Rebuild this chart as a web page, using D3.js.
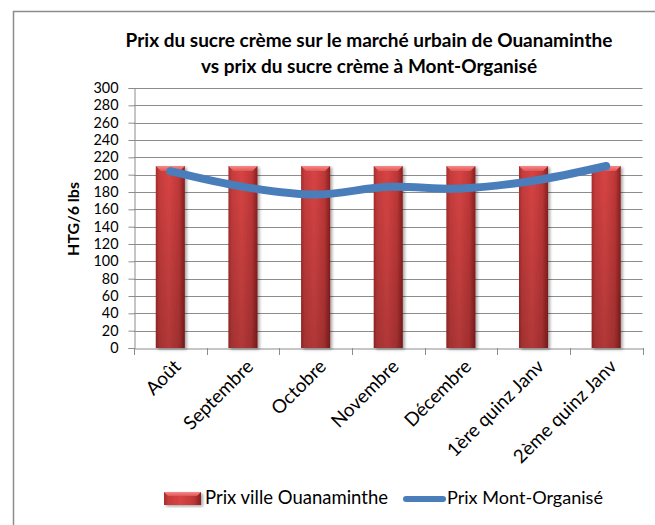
<!DOCTYPE html>
<html><head><meta charset="utf-8">
<script src="https://cdn.jsdelivr.net/npm/d3@7"></script>
<style>
html,body{margin:0;padding:0;background:#fff;}
text{font-family:Lato,"Open Sans",sans-serif;fill:#000;}
</style></head>
<body>
<svg id="chart" width="655" height="525"></svg>
<script>
const categories = ["Août","Septembre","Octobre","Novembre","Décembre","1ère quinz Janv","2ème quinz Janv"];
const prixOuanaminthe = [210,210,210,210,210,210,210];
const prixMontOrganise = [204,186,177,186,184,193,210];
const yTicks = [0,20,40,60,80,100,120,140,160,180,200,220,240,260,280,300];
const titleLines = ["Prix du sucre crème sur le marché urbain de Ouanaminthe","vs prix du sucre crème à Mont-Organisé"];
const yLabel = "HTG/6 lbs";
const seriesNames = ["Prix ville Ouanaminthe","Prix Mont-Organisé"];

const svg = d3.select("#chart");
const W = 655, H = 525;
const plot = {left:134, right:642.5, top:88, bottom:348};

function fitWidth(sel, target){
  const n = sel.node();
  const fs = parseFloat(sel.attr("font-size"));
  const w = n.getComputedTextLength();
  if (w > 0) sel.attr("font-size", (fs*target/w).toFixed(2));
  return parseFloat(sel.attr("font-size"));
}

const defs = svg.append("defs");
const gH = defs.append("linearGradient").attr("id","barH").attr("x1","0").attr("x2","1").attr("y1","0").attr("y2","0");
[[0,"#a62c2c"],[0.12,"#c63c3c"],[0.45,"#d84444"],[0.8,"#c03838"],[1,"#8a1f1f"]].forEach(s=>gH.append("stop").attr("offset",s[0]).attr("stop-color",s[1]));
const gV = defs.append("linearGradient").attr("id","barV").attr("x1","0").attr("x2","0").attr("y1","0").attr("y2","1");
gV.append("stop").attr("offset",0).attr("stop-color","#000").attr("stop-opacity",0);
gV.append("stop").attr("offset",1).attr("stop-color","#000").attr("stop-opacity",0.18);
const gTop = defs.append("linearGradient").attr("id","barTop").attr("x1","0").attr("x2","0").attr("y1","0").attr("y2","1");
gTop.append("stop").attr("offset",0).attr("stop-color","#f58a8a");
gTop.append("stop").attr("offset",1).attr("stop-color","#e05555");
const sh = defs.append("filter").attr("id","shadow").attr("x","-20%").attr("y","-20%").attr("width","160%").attr("height","140%");
sh.append("feDropShadow").attr("dx",2).attr("dy",1.5).attr("stdDeviation",1.5).attr("flood-color","#000").attr("flood-opacity",0.35);

// frame
svg.append("path").attr("d",`M13.5,${H} L13.5,11.5 L${W},11.5`).attr("fill","none").attr("stroke","#8c8c8c").attr("stroke-width",1.5);

const x = d3.scaleBand().domain(categories).range([plot.left, plot.right]).paddingInner(0.6).paddingOuter(0.3);
const xPts = d3.scalePoint().domain(categories).range([plot.left, plot.right]).padding(0.5);
const y = d3.scaleLinear().domain([0,300]).range([plot.bottom, plot.top]);

// gridlines
svg.append("g").selectAll("line").data(yTicks.filter(d=>d>0)).join("line")
  .attr("x1",plot.left).attr("x2",plot.right)
  .attr("y1",d=>Math.round(y(d))+0.5).attr("y2",d=>Math.round(y(d))+0.5)
  .attr("stroke","#8c8c8c").attr("stroke-width",1);

// y axis
const yAxis = svg.append("g").attr("transform",`translate(${plot.left+0.5},0)`)
  .call(d3.axisLeft(y).tickValues(yTicks).tickSize(6).tickPadding(10));
yAxis.select(".domain").attr("stroke","#8c8c8c");
yAxis.selectAll(".tick line").attr("stroke","#8c8c8c");
yAxis.selectAll(".tick text").attr("font-size",14.4).attr("font-family","Lato").attr("fill","#000");

// x axis
const xAxis = svg.append("g").attr("transform",`translate(0,${Math.round(plot.bottom)+0.5})`)
  .call(d3.axisBottom(x).tickSize(0).tickFormat(""));
xAxis.select(".domain").attr("stroke","#8c8c8c");
const boundaries = d3.range(categories.length+1).map(i=>plot.left + i*(plot.right-plot.left)/categories.length);
svg.append("g").selectAll("line").data(boundaries).join("line")
  .attr("x1",d=>Math.round(d)+0.5).attr("x2",d=>Math.round(d)+0.5)
  .attr("y1",plot.bottom).attr("y2",plot.bottom+7)
  .attr("stroke","#8c8c8c");

// x labels
const xl = svg.append("g").selectAll("text").data(categories).join("text")
  .attr("transform",d=>`translate(${xPts(d)+7},${plot.bottom+15}) rotate(-45)`)
  .attr("text-anchor","end").attr("dy","0.35em")
  .attr("font-size",16.5).text(d=>d);
const xfs = fitWidth(d3.select(xl.nodes()[categories.length-1]), 137);
xl.attr("font-size", xfs);

// bars
const bw = x.bandwidth();
const bars = svg.append("g").selectAll("g").data(categories.map((c,i)=>({c, v:prixOuanaminthe[i]}))).join("g")
  .attr("filter","url(#shadow)");
bars.append("rect").attr("x",d=>x(d.c)).attr("y",d=>y(d.v)).attr("width",bw).attr("height",d=>y(0)-y(d.v)).attr("fill","url(#barH)");
bars.append("rect").attr("x",d=>x(d.c)).attr("y",d=>y(d.v)).attr("width",bw).attr("height",d=>y(0)-y(d.v)).attr("fill","url(#barV)");
bars.append("path").attr("d",d=>{const x0=x(d.c), t=y(d.v), b=5;return `M${x0},${t} L${x0+bw},${t} L${x0+bw-b},${t+b} L${x0+b},${t+b} Z`;}).attr("fill","url(#barTop)");

// line
const line = d3.line().x((d,i)=>xPts(categories[i])).y(d=>y(d)).curve(d3.curveCatmullRom.alpha(0.5));
svg.append("path").datum(prixMontOrganise).attr("d",line)
  .attr("fill","none").attr("stroke","#4a7ebb").attr("stroke-width",8).attr("stroke-linecap","round").attr("stroke-linejoin","round");

// y label
svg.append("text").attr("transform","translate(79,219) rotate(-90)").attr("text-anchor","middle")
  .attr("font-size",16).attr("font-weight","bold").text(yLabel);

// title
const t1 = svg.append("text").attr("x",369).attr("y",47).attr("text-anchor","middle").attr("font-size",18).attr("font-weight","bold").text(titleLines[0]);
const tfs = fitWidth(t1, 487);
svg.append("text").attr("x",369).attr("y",73).attr("text-anchor","middle").attr("font-size",tfs).attr("font-weight","bold").text(titleLines[1]);

// legend
const lg = svg.append("g");
const sw = lg.append("g").attr("filter","url(#shadow)");
sw.append("rect").attr("x",164).attr("y",492).attr("width",37).attr("height",13).attr("fill","url(#barH)");
sw.append("path").attr("d","M164,492 L201,492 L197,496 L168,496 Z").attr("fill","url(#barTop)");
const l1 = lg.append("text").attr("x",205).attr("y",504).attr("font-size",17).text(seriesNames[0]);
fitWidth(l1, 183);
lg.append("line").attr("x1",406).attr("x2",443).attr("y1",499).attr("y2",499)
  .attr("stroke","#4a7ebb").attr("stroke-width",6).attr("stroke-linecap","round");
const l2 = lg.append("text").attr("x",447).attr("y",504).attr("font-size",17).text(seriesNames[1]);
fitWidth(l2, 156);
</script>
</body></html>
